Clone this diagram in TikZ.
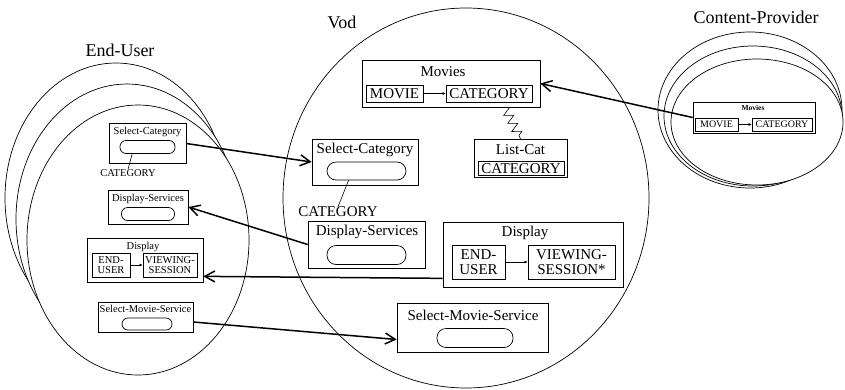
\documentclass[tikz,border=0pt]{standalone}
\usepackage{fontspec}
\setmainfont{Liberation Serif}
\usetikzlibrary{calc,arrows.meta,decorations.pathmorphing}

\tikzset{
  lbl/.style={font=\fontsize{18}{20}\selectfont, inner sep=0pt},
  zone/.style={draw, line width=0.7pt, fill=white},
  bx/.style={draw, line width=0.7pt, inner sep=0pt},
  pill/.style={draw, line width=0.7pt, inner sep=0pt, rounded corners=#1},
  pill/.default=6pt,
  vtxt/.style={font=\fontsize{15}{15}\selectfont, inner sep=0pt},
  utxt/.style={font=\fontsize{10.5}{10.5}\selectfont, inner sep=0pt},
  ctxt/.style={font=\fontsize{10}{10}\selectfont, inner sep=0pt},
  sarr/.style={line width=0.6pt, -{Latex[length=3pt,width=3pt]}},
  bigarr/.style={line width=1.5pt, -{Straight Barb[length=10pt,width=11pt]}},
}

\begin{document}
\begin{tikzpicture}[x=1pt,y=-1pt]
  \useasboundingbox (0,0) rectangle (845,389);

  %% End-User
  \node [lbl] (uLbl) at (120,50) {End-User};
  \draw [zone] (116,198) ellipse [x radius=111pt, y radius=135pt];
  \draw [zone] (127,219) ellipse [x radius=111pt, y radius=135pt];
  \draw [zone] (138,240) ellipse [x radius=111pt, y radius=135pt];

  \node [bx, minimum width=77pt, minimum height=40pt] (uSC) at (147.5,143.5) {};
  \node [utxt] (uSCt) at (147.5,132) {Select-Category};
  \node [pill, minimum width=55pt, minimum height=13pt] (uSCp) at (147.5,147) {};
  \node [utxt] (uSCcat) at (128,173) {CATEGORY};
  \draw [line width=0.6pt] ($(uSCp.south)!0.55!(uSCp.south west)$) -- (uSCcat.north);

  \node [bx, minimum width=80pt, minimum height=34pt] (uDS) at (148,207) {};
  \node [utxt] (uDSt) at (148,199) {Display-Services};
  \node [pill, minimum width=53pt, minimum height=13pt] (uDSp) at (148,214) {};

  \node [bx, minimum width=116pt, minimum height=44pt] (uDisp) at (145,260) {};
  \node [utxt] (uDispt) at (143,247) {Display};
  \node [bx, utxt, align=center, minimum width=38pt, minimum height=24pt] (uEU) at (111,265) {END-\\USER};
  \node [bx, utxt, align=center, minimum width=54pt, minimum height=24pt] (uVS) at (170,265) {VIEWING-\\SESSION};
  \draw [sarr] (uEU) -- (uVS);

  \node [bx, minimum width=95pt, minimum height=30pt] (uSMS) at (145.5,317) {};
  \node [utxt] (uSMSt) at (145.5,309) {Select-Movie-Service};
  \node [pill, minimum width=50pt, minimum height=12pt] (uSMSp) at (147,324) {};

  %% Vod
  \node [lbl] (vLbl) at (342,22) {Vod};
  \draw [zone] (466,198) ellipse [x radius=183pt, y radius=190pt];

  \node [bx, minimum width=178pt, minimum height=47pt] (vMov) at (451,83.5) {};
  \node [vtxt] (vMovt) at (443,72) {Movies};
  \node [bx, vtxt, minimum width=57pt, minimum height=17pt] (vMOVIE) at (394.5,93.5) {MOVIE};
  \node [bx, vtxt, minimum width=86pt, minimum height=17pt] (vCAT) at (489,93.5) {CATEGORY};
  \draw [sarr] (vMOVIE) -- (vCAT);

  \node [bx, minimum width=93pt, minimum height=38pt] (vLC) at (520.5,158) {};
  \node [vtxt] (vLCt) at (520.5,150) {List-Cat};
  \node [bx, vtxt, minimum width=86pt, minimum height=14pt] (vLCcat) at (521,168.5) {CATEGORY};
  \draw [line width=0.6pt, decorate, decoration={zigzag, segment length=9pt, amplitude=4.5pt}]
        ($(vMov.south)!0.6!(vMov.south east)$) -- (vLC.north);

  \node [bx, minimum width=106pt, minimum height=46pt] (vSC) at (365,162) {};
  \node [vtxt] (vSCt) at (365,150) {Select-Category};
  \node [pill=9pt, minimum width=79pt, minimum height=18pt] (vSCp) at (366.5,171) {};
  \node [vtxt] (vSCcat) at (338,212) {CATEGORY};
  \draw [line width=0.6pt] ($(vSCp.south)!0.45!(vSCp.south west)$) -- (vSCcat.north);

  \node [bx, minimum width=117pt, minimum height=47pt] (vDS) at (366.5,244.5) {};
  \node [vtxt] (vDSt) at (367,232) {Display-Services};
  \node [pill=9pt, minimum width=79pt, minimum height=19pt] (vDSp) at (366.5,255) {};

  \node [bx, minimum width=180pt, minimum height=65pt] (vDisp) at (533,254.5) {};
  \node [vtxt] (vDispt) at (525,233) {Display};
  \node [bx, vtxt, align=center, minimum width=53pt, minimum height=34pt] (vEU) at (478.5,262) {END-\\USER};
  \node [bx, vtxt, align=center, minimum width=87pt, minimum height=34pt] (vVS) at (571.5,262) {VIEWING-\\SESSION*};
  \draw [sarr] (vEU) -- (vVS);

  \node [bx, minimum width=151pt, minimum height=49pt] (vSMS) at (472.5,327.5) {};
  \node [vtxt] (vSMSt) at (473,315) {Select-Movie-Service};
  \node [pill=9pt, minimum width=76pt, minimum height=19pt] (vSMSp) at (475,338) {};

  %% Content-Provider
  \node [lbl] (cLbl) at (756,17) {Content-Provider};
  \draw [zone] (750,110) ellipse [x radius=92pt, y radius=78pt];
  \draw [zone] (753,116) ellipse [x radius=89pt, y radius=70pt];
  \draw [zone] (757,122) ellipse [x radius=86pt, y radius=63pt];

  \node [bx, minimum width=122pt, minimum height=31pt] (cMov) at (754,117.5) {};
  \node [font=\bfseries\fontsize{7.5}{8}\selectfont, inner sep=0pt] (cMovt) at (753,108) {Movies};
  \node [bx, ctxt, minimum width=43pt, minimum height=13pt] (cMOVIE) at (716.5,124.5) {MOVIE};
  \node [bx, ctxt, minimum width=60pt, minimum height=13pt] (cCAT) at (782,124.5) {CATEGORY};
  \draw [sarr] (cMOVIE) -- (cCAT);

  %% links between the zones
  \draw [bigarr] (cMov.west) -- (vMov.east);
  \draw [bigarr] (uSC.east) -- (vSC.west);
  \draw [bigarr] (vDS.west) -- (uDS.east);
  \draw [bigarr] ($(vDisp.south west)+(0,-9)$) -- ($(uDisp.south east)+(0,-6)$);
  \draw [bigarr] ($(uSMS.east)+(0,5)$) -- ($(vSMS.west)+(0,12)$);
\end{tikzpicture}
\end{document}
